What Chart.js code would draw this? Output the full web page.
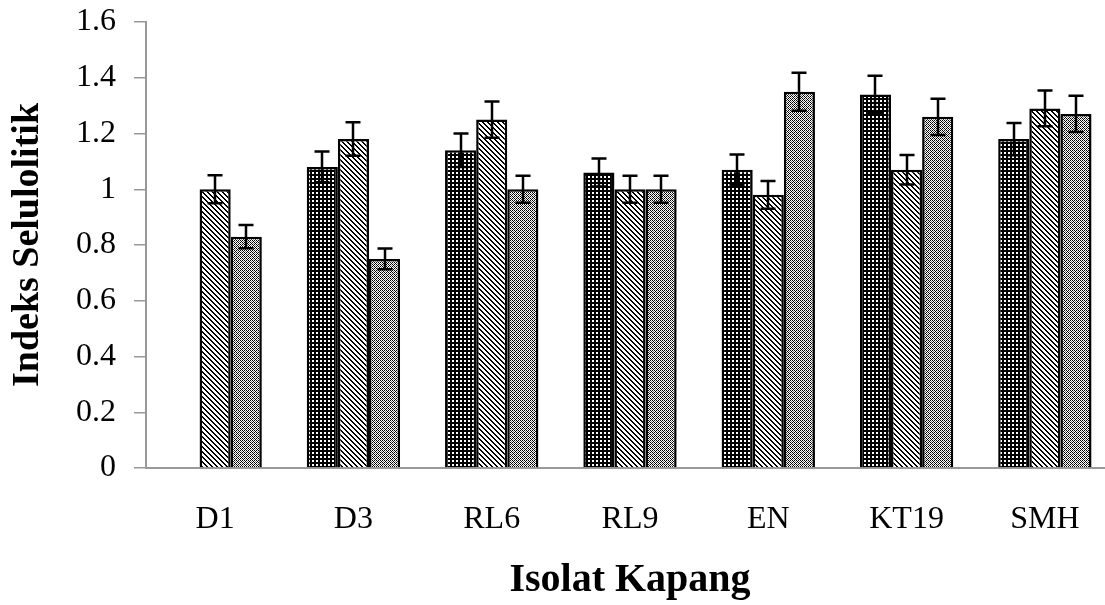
<!DOCTYPE html>
<html>
<head>
<meta charset="utf-8">
<script src="https://cdn.jsdelivr.net/npm/chart.js@4"></script>
<style>
  html, body { margin: 0; padding: 0; background: #fff; overflow: hidden; }
  #wrap { position: absolute; left: 0; top: 0; width: 1114px; height: 605px; }
</style>
</head>
<body>
<div id="wrap"><canvas id="chart" width="1114" height="605"></canvas></div>
<script>
// Categories (isolates)
const isolates = ['D1', 'D3', 'RL6', 'RL9', 'EN', 'KT19', 'SMH'];

// Series values
const series1 = [null, 1.08, 1.14, 1.06, 1.07, 1.34, 1.18];
const series2 = [1.00, 1.18, 1.25, 1.00, 0.98, 1.07, 1.29];
const series3 = [0.83, 0.75, 1.00, 1.00, 1.35, 1.26, 1.27];

// Error bar half-lengths
const err1 = [null, 0.055, 0.06, 0.05, 0.055, 0.067, 0.058];
const err2 = [0.05, 0.06, 0.065, 0.048, 0.05, 0.053, 0.064];
const err3 = [0.042, 0.037, 0.048, 0.048, 0.068, 0.065, 0.065];

// Y axis ticks
const yTicks = [0, 0.2, 0.4, 0.6, 0.8, 1, 1.2, 1.4, 1.6];

// Pattern fills like the Excel hatch styles
function makePattern(kind) {
    const c = document.createElement('canvas');
    const ctx = c.getContext('2d');
    if (kind === 'dark') {
        c.width = 4; c.height = 4;
        ctx.fillStyle = '#000';
        ctx.fillRect(0, 0, 4, 4);
        ctx.fillStyle = '#fff';
        ctx.fillRect(0, 0, 2, 2);
    } else if (kind === 'diag') {
        c.width = 5; c.height = 5;
        ctx.fillStyle = '#fff';
        ctx.fillRect(0, 0, 5, 5);
        ctx.fillStyle = '#000';
        for (let i = 0; i < 5; i++) {
            ctx.fillRect(i, i, 1, 1);
            ctx.fillRect((i + 1) % 5, i, 1, 1);
        }
    } else {
        c.width = 4; c.height = 4;
        ctx.fillStyle = '#fff';
        ctx.fillRect(0, 0, 4, 4);
        ctx.fillStyle = '#000';
        ctx.fillRect(0, 0, 1, 1);
        ctx.fillRect(2, 0, 1, 1);
        ctx.fillRect(0, 2, 1, 1);
        ctx.fillRect(2, 2, 1, 1);
        ctx.fillRect(1, 1, 1, 1);
        ctx.fillRect(3, 3, 1, 1);
        ctx.fillStyle = '#777';
        ctx.fillRect(1, 3, 1, 1);
        ctx.fillRect(3, 1, 1, 1);
    }
    return ctx.createPattern(c, 'repeat');
}

// Draws error bars on top of each bar
const errorBars = {
    id: 'errorBars',
    afterDatasetsDraw(chart) {
        const ctx = chart.ctx;
        const y = chart.scales.y;
        ctx.save();
        ctx.strokeStyle = '#000';
        ctx.lineWidth = 2.5;
        chart.data.datasets.forEach((ds, di) => {
            const meta = chart.getDatasetMeta(di);
            meta.data.forEach((bar, i) => {
                const v = ds.data[i];
                const e = ds.errors[i];
                if (v == null || e == null) return;
                const top = y.getPixelForValue(v + e);
                const bot = y.getPixelForValue(v - e);
                const x = Math.round(bar.x);
                ctx.beginPath();
                ctx.moveTo(x, top); ctx.lineTo(x, bot);
                ctx.moveTo(x - 7.5, top); ctx.lineTo(x + 7.5, top);
                ctx.moveTo(x - 7.5, bot); ctx.lineTo(x + 7.5, bot);
                ctx.stroke();
            });
        });
        ctx.restore();
    }
};

const serif = "'Liberation Serif', 'Times New Roman', serif";

function dataset(values, errors, kind) {
    return {
        data: values,
        errors: errors,
        backgroundColor: makePattern(kind),
        borderColor: '#000',
        borderWidth: 2.5,
        borderSkipped: 'bottom'
    };
}

new Chart(document.getElementById('chart'), {
    type: 'bar',
    data: {
        labels: isolates,
        datasets: [
            dataset(series1, err1, 'dark'),
            dataset(series2, err2, 'diag'),
            dataset(series3, err3, 'light')
        ]
    },
    options: {
        responsive: false,
        animation: false,
        layout: { padding: 0 },
        datasets: { bar: { categoryPercentage: 0.675, barPercentage: 1 } },
        plugins: { legend: { display: false }, tooltip: { enabled: false } },
        scales: {
            x: {
                grid: { display: false },
                border: { color: '#999', width: 2 },
                ticks: { color: '#000', padding: 24, font: { family: serif, size: 32 } },
                title: {
                    display: true,
                    text: 'Isolat Kapang',
                    color: '#000',
                    padding: { top: 0, bottom: 0 },
                    font: { family: serif, size: 40, weight: 'bold' }
                },
                afterFit(scale) { scale.height = 137; }
            },
            y: {
                min: 0,
                max: 1.6,
                afterBuildTicks(scale) { scale.ticks = yTicks.map(v => ({ value: v })); },
                grid: { drawOnChartArea: false, color: '#999', tickLength: 12, lineWidth: 1.5 },
                border: { color: '#999', width: 2 },
                ticks: {
                    color: '#000', padding: 18,
                    font: { family: serif, size: 32, lineHeight: 0.25 },
                    callback: v => String(Math.round(v * 10) / 10)
                },
                title: {
                    display: true,
                    text: 'Indeks Selulolitik',
                    color: '#000',
                    padding: { top: 5, bottom: 0 },
                    font: { family: serif, size: 38, weight: 'bold' }
                },
                afterFit(scale) { scale.width = 146; }
            }
        }
    },
    plugins: [errorBars]
});
</script>
</body>
</html>
